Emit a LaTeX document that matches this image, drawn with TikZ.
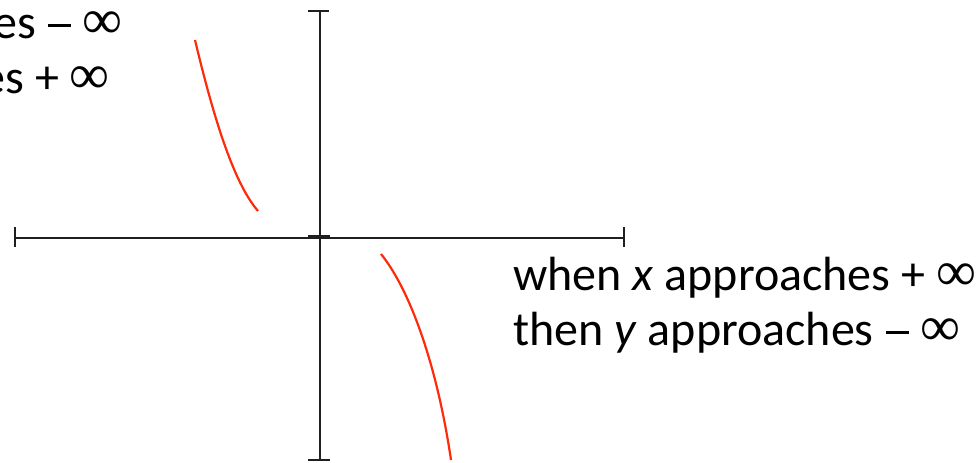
\documentclass[tikz,border=0pt]{standalone}
\usepackage{fontspec}
\setmainfont{Carlito}
\newfontfamily\inffont{Liberation Serif}
\newcommand{\myinf}{{\inffont\fontsize{56}{55}\selectfont ∞}}
\newcommand{\mydash}{\kern1pt\rule[11.5pt]{23pt}{2.8pt}\kern1pt}
\definecolor{curvered}{HTML}{FF2A0A}
\tikzset{
  axisline/.style={line width=2.8pt, draw=black!88},
  tickline/.style={line width=2.8pt, draw=black!88},
  curveline/.style={line width=2.2pt, draw=curvered},
  lbl/.style={font=\fontsize{48}{55}\selectfont, inner sep=0pt, text=black}
}
\begin{document}
\begin{tikzpicture}[x=1pt,y=-1pt]
\useasboundingbox (0,0) rectangle (980,463);
\clip (0,0) rectangle (980,463);
% axes
\coordinate (vt) at (320,11);
\coordinate (vb) at (320,460);
\coordinate (hl) at (15,238);
\coordinate (hr) at (624,238);
\draw[axisline] (vt) -- (vb);
\draw[axisline] (hl) -- (hr);
% end ticks
\draw[tickline] (308,11) -- (329,11);
\draw[tickline] (308,460) -- (330,460);
\draw[tickline] (15,227) -- (15,247);
\draw[tickline] (624,227) -- (624,247);
\draw[line width=4pt, draw=black!88] (308,236.5) -- (330,236.5);
% curves
\coordinate (a1) at (195,40);
\coordinate (a2) at (258,211);
\coordinate (b1) at (381,254);
\coordinate (b2) at (451,460);
\draw[curveline] (a1) .. controls (213,115) and (233,182) .. (a2);
\draw[curveline] (b1) .. controls (410,290) and (437,365) .. (b2);
% labels
\node[lbl, anchor=base east] (l1) at (123,38) {when \textit{x} approaches \mydash{} \myinf};
\node[lbl, anchor=base east] (l2) at (110,93) {then \textit{y} approaches + \myinf};
\node[lbl, anchor=base west] (r1) at (513,290) {when \textit{x} approaches + \myinf};
\node[lbl, anchor=base west] (r2) at (513,345) {then \textit{y} approaches \mydash{} \myinf};
\end{tikzpicture}
\end{document}
